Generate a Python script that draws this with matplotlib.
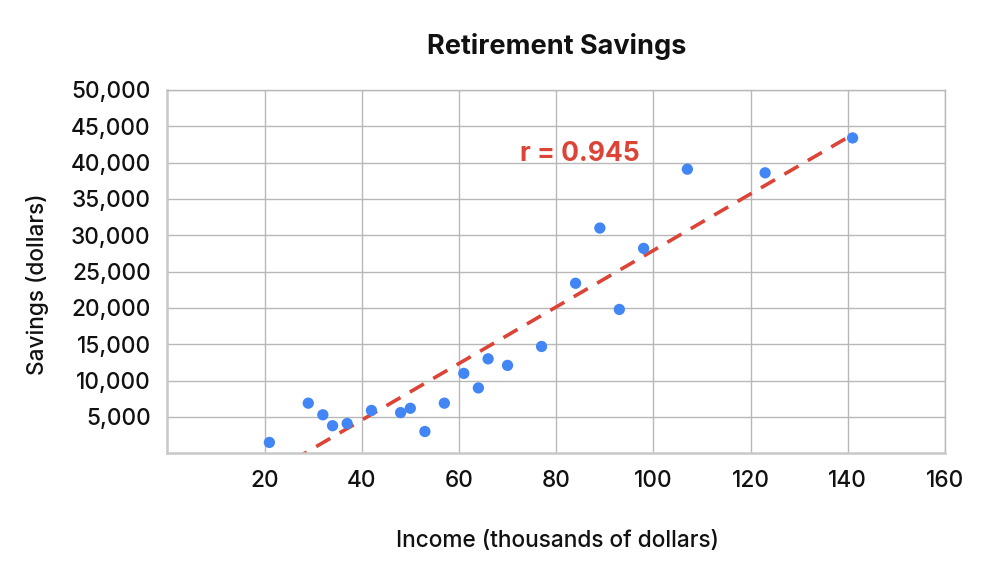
import numpy as np
import matplotlib
matplotlib.use("Agg")
import matplotlib.pyplot as plt
from matplotlib.ticker import FuncFormatter

income = [21, 29, 32, 34, 37, 42, 48, 50, 53, 57, 61, 64, 66, 70, 77,
          84, 89, 93, 98, 107, 123, 141]
savings = [1500, 6900, 5300, 3800, 4100, 5900, 5600, 6200, 3000, 6900, 11000,
           9000, 13000, 12100, 14700, 23400, 31000, 19800, 28200, 39100, 38600, 43400]
x_ticks = [20, 40, 60, 80, 100, 120, 140, 160]
y_ticks = [5000, 10000, 15000, 20000, 25000, 30000, 35000, 40000, 45000, 50000]
r_label = "r = 0.945"
title = "Retirement Savings"
xlabel = "Income (thousands of dollars)"
ylabel = "Savings (dollars)"

plt.rcParams['font.family'] = ['Inter', 'DejaVu Sans']

fig = plt.figure(figsize=(9.9, 5.76), dpi=100)
ax = fig.add_axes([0.1690, 0.2130, 0.9545 - 0.1690, 0.8438 - 0.2130])

ax.set_xlim(0, 160)
ax.set_ylim(0, 50000)
ax.set_xticks(x_ticks)
ax.set_yticks(y_ticks)
ax.yaxis.set_major_formatter(FuncFormatter(lambda v, p: f"{int(v):,}"))
ax.grid(True, color='#b8b8b8', linewidth=1.0, zorder=0)
ax.set_axisbelow(True)
for s in ['top', 'right']:
    ax.spines[s].set_color('#b8b8b8')
    ax.spines[s].set_linewidth(1.0)
for s in ['left', 'bottom']:
    ax.spines[s].set_color('#c8c8c8')
    ax.spines[s].set_linewidth(1.8)
ax.tick_params(length=0, labelsize=16.3, colors='#111111', pad=12)
ax.tick_params(axis='x', pad=12)
for lab in ax.get_xticklabels() + ax.get_yticklabels():
    lab.set_fontweight('medium')

# trendline (least squares)
m, b = np.polyfit(income, savings, 1)
xs = np.array([min(income), max(income)])
ax.plot(xs, m * xs + b, color='#DB4437', linewidth=2.6, linestyle=(0, (4.5, 3)),
        zorder=2, clip_on=True)

ax.scatter(income, savings, s=66, color='#4285F4', zorder=3, edgecolors='none')

ax.text(72.5, 41250, r_label, color='#DB4437', fontsize=19, fontweight='bold',
        va='center', ha='left')

fig.text(0.5626, 0.920, title, ha='center', va='center', fontsize=19.5,
         fontweight='bold', color='#111111')
fig.text(0.5626, 0.061, xlabel, ha='center', va='center', fontsize=16.3,
         fontweight='medium', color='#111111')
fig.text(0.038, 0.507, ylabel, ha='center', va='center', fontsize=16.3, color='#111111',
         fontweight='medium', rotation=90)

fig.savefig('out.png', dpi=100)
